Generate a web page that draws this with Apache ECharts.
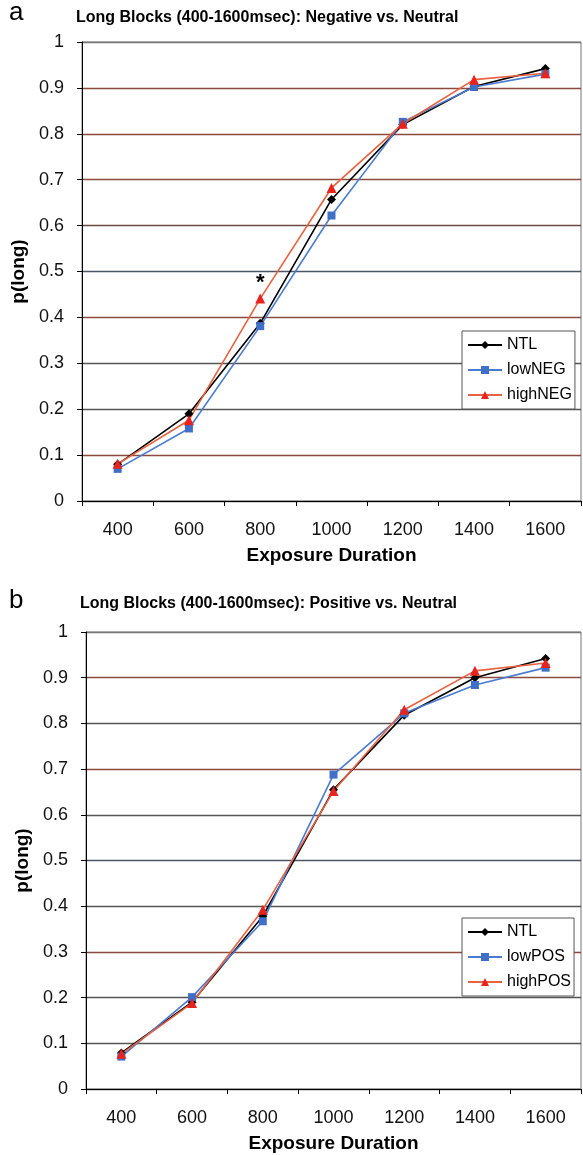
<!DOCTYPE html>
<html>
<head>
<meta charset="utf-8">
<script src="https://cdn.jsdelivr.net/npm/echarts@6/dist/echarts.min.js"></script>
<style>
html,body{margin:0;padding:0;background:#fff;}
#chart{width:583px;height:1155px;}
</style>
</head>
<body>
<div id="chart"></div>
<script>
const categories = ['400','600','800','1000','1200','1400','1600'];
const titleA = 'Long Blocks (400-1600msec): Negative vs. Neutral';
const titleB = 'Long Blocks (400-1600msec): Positive vs. Neutral';
const xName = 'Exposure Duration';
const yName = 'p(long)';
// Panel a
const ntlA    = [0.080, 0.190, 0.387, 0.657, 0.820, 0.903, 0.942];
const lowNEG  = [0.070, 0.158, 0.381, 0.622, 0.826, 0.902, 0.930];
const highNEG = [0.081, 0.176, 0.441, 0.682, 0.822, 0.918, 0.932];
// Panel b
const ntlB    = [0.079, 0.190, 0.378, 0.655, 0.818, 0.900, 0.942];
const lowPOS  = [0.071, 0.201, 0.367, 0.688, 0.822, 0.884, 0.922];
const highPOS = [0.077, 0.188, 0.392, 0.652, 0.830, 0.915, 0.932];
const starIndex = 2; // significance marker on highNEG at 800

const FONT = '"Liberation Sans", Arial, sans-serif';
const BR = '#8a4a3c', DK = '#555', BL = '#4a5663';
const gridColorsA = [DK, BR, DK, DK, BR, BL, '#6a4a42', BR, BR, BR, '#777'];
const gridColorsB = [DK, DK, DK, BR, DK, BL, DK, BR, DK, BR, '#777'];

function xAxis(gi){
  return {
    type:'category', gridIndex:gi, data:categories, boundaryGap:true,
    axisLine:{lineStyle:{color:'#000',width:1}},
    axisTick:{show:true,length:5,lineStyle:{color:'#000'}},
    axisLabel:{color:'#111',fontSize:18,fontFamily:FONT,margin:20},
    name:xName, nameLocation:'middle', nameGap:45,
    nameTextStyle:{color:'#000',fontSize:19,fontWeight:'bold',fontFamily:FONT}
  };
}
function yAxis(gi, colors){
  return {
    type:'value', gridIndex:gi, min:0, max:1, interval:0.1,
    axisLine:{show:true,lineStyle:{color:'#000',width:1}},
    axisTick:{show:true,length:5,lineStyle:{color:'#000'}},
    axisLabel:{color:'#111',fontSize:18,fontFamily:FONT,margin:18},
    splitLine:{show:true,lineStyle:{color:colors,width:1.4}},
    name:yName, nameLocation:'middle', nameGap:33, nameRotate:90,
    nameTextStyle:{color:'#000',fontSize:19,fontWeight:'bold',fontFamily:FONT}
  };
}
const NTL_STYLE = {color:'#000', line:'#000', symbol:'diamond', size:9};
const LOW_STYLE = {color:'#3f6fc6', line:'#4a7bd0', symbol:'rect', size:8};
const HIGH_STYLE = {color:'#e8231e', line:'#e8623f', symbol:'triangle', size:10};

function series(name, data, st, gi){
  return {
    name:name, type:'line', xAxisIndex:gi, yAxisIndex:gi, data:data,
    symbol:st.symbol, symbolSize:st.size, showSymbol:true,
    itemStyle:{color:st.color}, lineStyle:{color:st.line,width:1.6},
    animation:false, z:3
  };
}

const highNEGData = highNEG.map((v,i)=> i===starIndex ? {value:v,label:{show:true,position:'top',formatter:'*',fontSize:22,fontWeight:'bold',color:'#000',distance:0,fontFamily:FONT}} : v);

function legend(top, names){
  return {
    orient:'vertical', left:462, top:top, data:names,
    backgroundColor:'#fff', borderColor:'#555', borderWidth:1,
    padding:[6,3,6,5], itemGap:9, itemWidth:34, itemHeight:10,
    textStyle:{color:'#000',fontSize:16,fontFamily:FONT}
  };
}

const option = {
  backgroundColor:'#fff',
  animation:false,
  title:[
    {text:'a', left:9, top:0, padding:0, textStyle:{fontSize:26,fontWeight:'normal',color:'#000',fontFamily:FONT}},
    {text:titleA, left:76, top:10, padding:0, textStyle:{fontSize:16,fontWeight:'bold',color:'#000',fontFamily:FONT}},
    {text:'b', left:9, top:588, padding:0, textStyle:{fontSize:26,fontWeight:'normal',color:'#000',fontFamily:FONT}},
    {text:titleB, left:80, top:596, padding:0, textStyle:{fontSize:16,fontWeight:'bold',color:'#000',fontFamily:FONT}}
  ],
  grid:[
    {left:82, top:42, width:499, height:459, show:true, borderColor:'#777', borderWidth:1, backgroundColor:'#fff'},
    {left:86, top:632, width:495, height:457, show:true, borderColor:'#777', borderWidth:1, backgroundColor:'#fff'}
  ],
  xAxis:[xAxis(0), xAxis(1)],
  yAxis:[yAxis(0, gridColorsA), yAxis(1, gridColorsB)],
  legend:[
    legend(331, ['NTL','lowNEG','highNEG']),
    legend(918, ['NTL ','lowPOS','highPOS'])
  ],
  series:[
    series('NTL', ntlA, NTL_STYLE, 0),
    series('lowNEG', lowNEG, LOW_STYLE, 0),
    series('highNEG', highNEGData, HIGH_STYLE, 0),
    series('NTL ', ntlB, NTL_STYLE, 1),
    series('lowPOS', lowPOS, LOW_STYLE, 1),
    series('highPOS', highPOS, HIGH_STYLE, 1)
  ]
};
const chart = echarts.init(document.getElementById('chart'), null, {renderer:'canvas'});
chart.setOption(option);
</script>
</body>
</html>
